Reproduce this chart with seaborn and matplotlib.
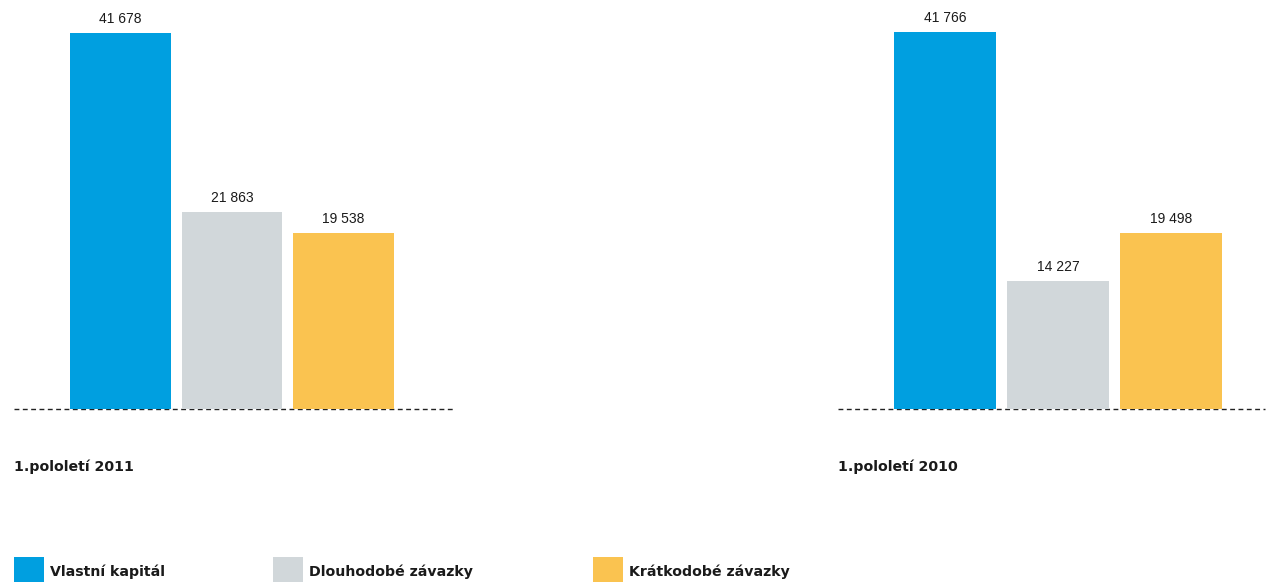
import matplotlib
matplotlib.use("Agg")
import matplotlib.pyplot as plt
import seaborn as sns
import pandas as pd
from matplotlib.patches import Rectangle

# Data
categories = ["Vlastní kapitál", "Dlouhodobé závazky", "Krátkodobé závazky"]
values_2011 = [41678, 21863, 19538]
values_2010 = [41766, 14227, 19498]
period_labels = ["1.pololetí 2011", "1.pololetí 2010"]
colors = ["#009FE0", "#D1D7DA", "#FAC350"]

sns.set_theme(style="white")
plt.rcParams["font.family"] = ["DejaVu Sans"]

fig = plt.figure(figsize=(12.67, 5.82), dpi=100)

# axes positions (figure fraction) and x ranges for each group
ax_left = fig.add_axes([14 / 1267, 173 / 582, 441 / 1267, 409 / 582])
ax_right = fig.add_axes([838 / 1267, 173 / 582, 427 / 1267, 409 / 582])
xlims = [(-0.955, 3.0), (-0.947, 2.83)]

narrow = ["Liberation Sans", "DejaVu Sans"]

for ax, vals, label, xl in zip([ax_left, ax_right], [values_2011, values_2010], period_labels, xlims):
    df = pd.DataFrame({"cat": categories, "val": vals})
    sns.barplot(data=df, x="cat", y="val", hue="cat", palette=colors,
                width=0.9, saturation=1, legend=False, linewidth=0, ax=ax)
    ax.set_xlim(*xl)
    ax.set_ylim(0, 45334)
    ax.axhline(0, color="#222222", linewidth=1, linestyle=(0, (3.5, 2.5)),
               clip_on=False, zorder=0)
    for cont in ax.containers:
        ax.bar_label(cont, labels=[f"{v:,.0f}".replace(",", " ") for v in cont.datavalues],
                     padding=5, fontsize=10, family=narrow, color="#1a1a1a")
    ax.set_axis_off()
    ax.text(0, -0.14, label, transform=ax.transAxes, fontsize=10.2,
            fontweight="bold", color="#1a1a1a", va="center", ha="left")

# legend drawn along the bottom
legend_x = [14, 273, 593]
for x, c, name in zip(legend_x, colors, categories):
    fig.add_artist(Rectangle((x / 1267, 0), 30 / 1267, 25 / 582,
                             transform=fig.transFigure, color=c, lw=0))
    fig.text((x + 36) / 1267, 10 / 582, name, fontsize=10.2, fontweight="bold",
             color="#1a1a1a", va="center", ha="left")

fig.savefig("out.png", dpi=100)
